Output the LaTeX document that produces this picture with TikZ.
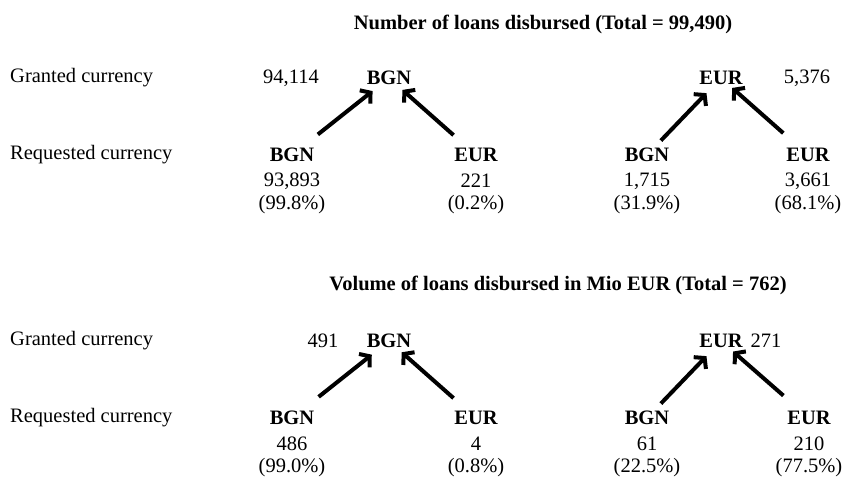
\documentclass[tikz,border=0pt]{standalone}
\usepackage{fontspec}
\setmainfont{Liberation Serif}
\usetikzlibrary{arrows.meta,positioning}

\begin{document}
\begin{tikzpicture}[x=1pt, y=1pt, node distance=24pt,
    font=\fontsize{20.5}{24}\selectfont,
    heading/.style={font=\fontsize{20.5}{24}\selectfont\bfseries},
    rowlabel/.style={anchor=west, inner sep=0pt},
    currency/.style={inner sep=0pt, font=\fontsize{20.5}{24}\selectfont\bfseries},
    amount/.style={inner sep=0pt},
    flow/.style={line width=4pt, -{Straight Barb[length=7pt, width=17pt]}, shorten <=30pt, shorten >=18pt}]

    \useasboundingbox (0,0) rectangle (845,477);

    % number of loans
    \node [heading] (numTitle) at (543,453) {Number of loans disbursed (Total = 99,490)};
    \node [rowlabel] (numGranted) at (10,399) {Granted currency};
    \node [rowlabel] (numRequested) at (10,322) {Requested currency};

    \node [currency] (numGrantBGN) at (389,399) {BGN};
    \node [amount] (numGrantBGNval) at (291,399) {94,114};
    \node [currency] (numReqBGNa) at (292,322) {BGN};
    \node [amount, below of=numReqBGNa, yshift=-2pt] (numReqBGNaval) {93,893};
    \node [amount, below of=numReqBGNaval] (numReqBGNapct) {(99.8\%)};
    \node [currency] (numReqEURa) at (476,322) {EUR};
    \node [amount, below of=numReqEURa, yshift=-2pt] (numReqEURaval) {221};
    \node [amount, below of=numReqEURaval] (numReqEURapct) {(0.2\%)};

    \node [currency] (numGrantEUR) at (721,399) {EUR};
    \node [amount] (numGrantEURval) at (807,399) {5,376};
    \node [currency] (numReqBGNb) at (647,322) {BGN};
    \node [amount, below of=numReqBGNb, yshift=-2pt] (numReqBGNbval) {1,715};
    \node [amount, below of=numReqBGNbval] (numReqBGNbpct) {(31.9\%)};
    \node [currency] (numReqEURb) at (808,322) {EUR};
    \node [amount, below of=numReqEURb, yshift=-2pt] (numReqEURbval) {3,661};
    \node [amount, below of=numReqEURbval] (numReqEURbpct) {(68.1\%)};

    \draw[flow, shorten <=33pt, shorten >=21pt] (numReqBGNa.center) -- (numGrantBGN.center);
    \draw[flow, shorten <=30pt, shorten >=18pt] (numReqEURa.center) -- (numGrantBGN.center);
    \draw[flow, shorten <=20pt, shorten >=21pt] (numReqBGNb.center) -- (numGrantEUR.center);
    \draw[flow, shorten <=33pt, shorten >=15pt] (numReqEURb.center) -- (numGrantEUR.center);

    % volume of loans
    \node [heading] (volTitle) at (558,192) {Volume of loans disbursed in Mio EUR (Total = 762)};
    \node [rowlabel] (volGranted) at (10,136) {Granted currency};
    \node [rowlabel] (volRequested) at (10,59) {Requested currency};

    \node [currency] (volGrantBGN) at (389,136) {BGN};
    \node [amount] (volGrantBGNval) at (323,136) {491};
    \node [currency] (volReqBGNa) at (292,59) {BGN};
    \node [amount, below of=volReqBGNa, yshift=-2pt] (volReqBGNaval) {486};
    \node [amount, below of=volReqBGNaval] (volReqBGNapct) {(99.0\%)};
    \node [currency] (volReqEURa) at (476,59) {EUR};
    \node [amount, below of=volReqEURa, yshift=-2pt] (volReqEURaval) {4};
    \node [amount, below of=volReqEURaval] (volReqEURapct) {(0.8\%)};

    \node [currency] (volGrantEUR) at (721,136) {EUR};
    \node [amount] (volGrantEURval) at (766,136) {271};
    \node [currency] (volReqBGNb) at (647,59) {BGN};
    \node [amount, below of=volReqBGNb, yshift=-2pt] (volReqBGNbval) {61};
    \node [amount, below of=volReqBGNbval] (volReqBGNbpct) {(22.5\%)};
    \node [currency] (volReqEURb) at (809,59) {EUR};
    \node [amount, below of=volReqEURb, yshift=-2pt] (volReqEURbval) {210};
    \node [amount, below of=volReqEURbval] (volReqEURbpct) {(77.5\%)};

    \draw[flow, shorten <=34pt, shorten >=22pt] (volReqBGNa.center) -- (volGrantBGN.center);
    \draw[flow, shorten <=30pt, shorten >=17pt] (volReqEURa.center) -- (volGrantBGN.center);
    \draw[flow, shorten <=20pt, shorten >=21pt] (volReqBGNb.center) -- (volGrantEUR.center);
    \draw[flow, shorten <=34pt, shorten >=16pt] (volReqEURb.center) -- (volGrantEUR.center);
\end{tikzpicture}
\end{document}
